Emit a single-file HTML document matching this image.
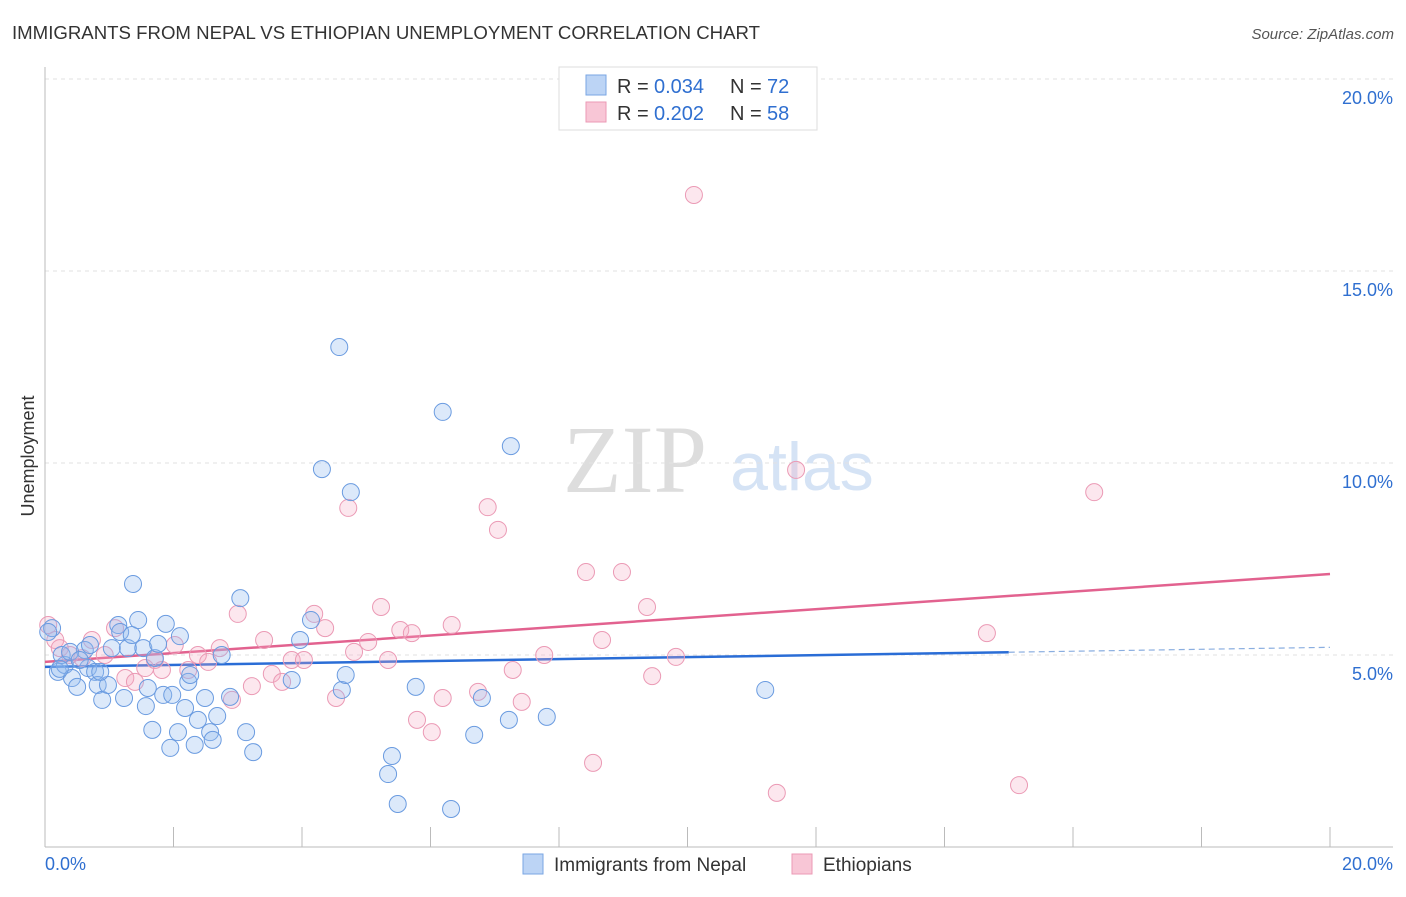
<!DOCTYPE html>
<html><head><meta charset="utf-8"><style>
body{margin:0;background:#fff;font-family:"Liberation Sans",sans-serif}
</style></head><body>
<svg width="1406" height="892" xmlns="http://www.w3.org/2000/svg" font-family="Liberation Sans, sans-serif">
<text x="12" y="39" font-size="18" fill="#333" textLength="748" lengthAdjust="spacingAndGlyphs">IMMIGRANTS FROM NEPAL VS ETHIOPIAN UNEMPLOYMENT CORRELATION CHART</text>
<text x="1394" y="39" font-size="15" fill="#555" font-style="italic" text-anchor="end">Source: ZipAtlas.com</text>
<text transform="translate(34,456) rotate(-90)" font-size="18" fill="#333" text-anchor="middle">Unemployment</text>
<text x="635" y="492" font-size="96" fill="#ddd" font-family="Liberation Serif, serif" text-anchor="middle">ZIP</text>
<text x="802" y="490" font-size="68" fill="#d5e3f5" text-anchor="middle">atlas</text>
<g id="grid"></g><g id="axes"></g><g id="lines"></g><g id="pts"></g>
<g>
<rect x="559" y="67" width="258" height="63" fill="#fff" stroke="#ddd"/>
<rect x="586" y="75" width="20" height="20" fill="#bcd4f5" stroke="#7aa6e3"/>
<text x="617" y="93" font-size="20" fill="#333">R =</text>
<text x="654" y="93" font-size="20" fill="#2f6fd0">0.034</text>
<text x="730" y="93" font-size="20" fill="#333">N =</text>
<text x="767" y="93" font-size="20" fill="#2f6fd0">72</text>
<rect x="586" y="102" width="20" height="20" fill="#f8c6d6" stroke="#eb9ab5"/>
<text x="617" y="120" font-size="20" fill="#333">R =</text>
<text x="654" y="120" font-size="20" fill="#2f6fd0">0.202</text>
<text x="730" y="120" font-size="20" fill="#333">N =</text>
<text x="767" y="120" font-size="20" fill="#2f6fd0">58</text>
</g>
<g>
<rect x="523" y="854" width="20" height="20" fill="#bcd4f5" stroke="#7aa6e3"/>
<text x="554" y="871" font-size="19" fill="#333">Immigrants from Nepal</text>
<rect x="792" y="854" width="20" height="20" fill="#f8c6d6" stroke="#eb9ab5"/>
<text x="823" y="871" font-size="19" fill="#333">Ethiopians</text>
</g>
</svg>
<script>
const yTicks=[5,10,15,20];
const yTickLabels=["5.0%","10.0%","15.0%","20.0%"];
const xTickLabels=["0.0%","20.0%"];
const nepalX=[0.11,0.20,0.31,0.42,0.50,0.26,0.62,0.67,0.78,0.70,0.82,0.89,0.98,1.04,1.14,1.17,1.23,1.29,1.35,1.37,1.45,1.53,1.57,1.60,1.67,1.71,1.76,1.84,1.88,1.95,1.98,2.07,2.10,2.18,2.23,2.26,2.33,2.38,2.49,2.57,2.61,2.68,2.75,2.88,3.04,3.13,3.24,3.84,3.97,4.14,4.31,4.58,4.62,4.68,4.76,5.34,5.40,5.49,5.77,6.19,6.32,6.68,6.80,7.22,7.25,7.81,11.21,0.05,0.39,0.54,0.23,0.86];
const nepalY=[5.70,4.56,4.74,4.40,4.17,5.00,5.13,4.66,4.56,5.26,4.22,3.83,4.22,5.18,5.78,5.60,3.88,5.18,5.52,6.85,5.91,5.18,3.67,4.14,3.05,4.92,5.29,3.96,5.81,2.58,3.96,2.99,5.49,3.62,4.30,4.48,2.66,3.31,3.88,2.99,2.79,3.41,5.00,3.91,6.48,2.99,2.47,4.35,5.39,5.91,9.84,13.02,4.09,4.48,9.24,1.90,2.37,1.12,4.17,11.33,0.99,2.92,3.88,3.31,10.44,3.39,4.09,5.60,5.08,4.87,4.64,4.56];
const ethX=[0.05,0.16,0.23,0.39,0.58,0.73,0.93,1.09,1.25,1.40,1.56,1.71,1.82,2.02,2.23,2.38,2.54,2.72,2.91,3.00,3.22,3.41,3.53,3.69,3.84,4.03,4.19,4.36,4.53,4.72,4.81,5.03,5.23,5.34,5.53,5.71,5.79,6.02,6.19,6.33,6.74,6.89,7.05,7.28,7.42,7.77,8.42,8.53,8.67,8.98,9.37,9.45,9.82,10.10,11.39,11.69,14.66,15.16,16.33];
const ethY=[5.78,5.39,5.18,5.00,4.92,5.39,5.00,5.70,4.40,4.30,4.66,4.87,4.61,5.26,4.61,5.00,4.82,5.18,3.83,6.07,4.19,5.39,4.51,4.30,4.87,4.87,6.07,5.70,3.88,8.83,5.08,5.34,6.25,4.87,5.65,5.57,3.31,2.99,3.88,5.78,4.04,8.85,8.26,4.61,3.78,5.00,7.16,2.19,5.39,7.16,6.25,4.45,4.95,16.98,1.41,9.82,5.57,1.61,9.24];
const nepalTrend=[4.69,5.20];
const ethTrend=[4.82,7.11];
const X=v=>45+v/20*1285, Y=v=>847-v/5*192;
const NS="http://www.w3.org/2000/svg";
function mk(parent,tag,attrs){const e=document.createElementNS(NS,tag);for(const k in attrs)e.setAttribute(k,attrs[k]);document.getElementById(parent).appendChild(e);return e;}
yTicks.forEach((t,i)=>{
 const l=mk('grid','line',{x1:45,x2:1393,y1:Y(t),y2:Y(t),stroke:'#e2e2e2','stroke-dasharray':'4,4'});
 
 
 const tx=mk('grid','text',{x:1393,y:Y(t)+25,'font-size':18,fill:'#2f6fd0','text-anchor':'end'});
 tx.textContent=yTickLabels[i];
 
 
});
let ax=mk('axes','line',{x1:45,x2:45,y1:67,y2:847,stroke:'#bbb'});


ax=mk('axes','line',{x1:45,x2:1393,y1:847,y2:847,stroke:'#bbb'});


for(let i=0;i<=10;i++){
 const t=mk('axes','line',{x1:X(i*2),x2:X(i*2),y1:827,y2:847,stroke:'#bbb'});
 
 
}
[[0,'start',45],[20,'end',1393]].forEach((d,i)=>{
 const tx=mk('axes','text',{x:d[2],y:870,'font-size':18,fill:'#2f6fd0','text-anchor':d[1]});
 tx.textContent=xTickLabels[i];
 
 
});
function pts(xs,ys,fill,stroke,name){xs.forEach((x,i)=>{
 const c=mk('pts','circle',{cx:X(x),cy:Y(ys[i]),r:8.5,fill:fill,stroke:stroke,'stroke-width':1});
 
 
});}
pts(ethX,ethY,'rgba(245,170,195,0.28)','#eb9ab5','ethiopian-point');
pts(nepalX,nepalY,'rgba(147,186,240,0.32)','#6a9be0','nepal-point');
const bAt=v=>nepalTrend[0]+(nepalTrend[1]-nepalTrend[0])*v/20;
let ln=mk('lines','line',{x1:X(0),y1:Y(bAt(0)),x2:X(15),y2:Y(bAt(15)),stroke:'#2a6dd6','stroke-width':2.5});


ln=mk('lines','line',{x1:X(15),y1:Y(bAt(15)),x2:X(20),y2:Y(bAt(20)),stroke:'#8aaee0','stroke-width':1.2,'stroke-dasharray':'6,4'});


ln=mk('lines','line',{x1:X(0),y1:Y(ethTrend[0]),x2:X(20),y2:Y(ethTrend[1]),stroke:'#e2628f','stroke-width':2.5});


</script>
</body></html>
